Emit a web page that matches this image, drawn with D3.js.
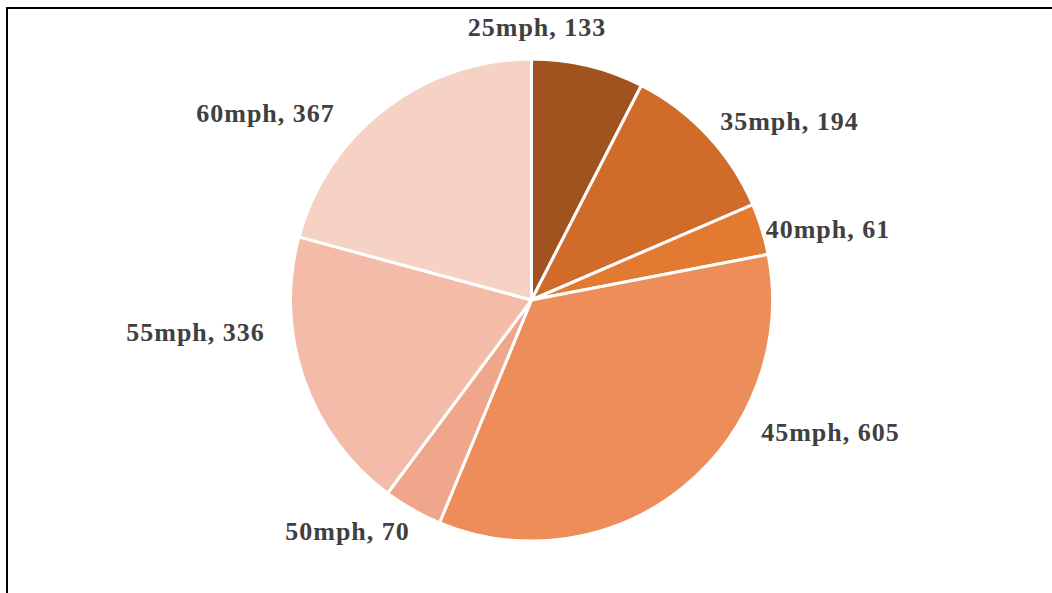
<!DOCTYPE html>
<html>
<head>
<meta charset="utf-8">
<script src="https://cdn.jsdelivr.net/npm/d3@7"></script>
<style>
  html, body { margin: 0; padding: 0; background: #fff; }
  svg { display: block; }
</style>
</head>
<body>
<svg id="chart" width="1052" height="593"></svg>
<script>
// ---- data ----
const categories = ["25mph", "35mph", "40mph", "45mph", "50mph", "55mph", "60mph"];
const values = [133, 194, 61, 605, 70, 336, 367];
const colors = ["#A0521F", "#D06B2A", "#E37A31", "#ED8E5A", "#F0A68A", "#F3BBA8", "#F6D2C5"];
// label offsets from pie centre (px), placed like the original "best fit" labels
const labelOffsets = [[5.5, -273], [258, -178.5], [296.5, -71], [299, 132.5], [-184, 231], [-336, 32], [-266, -187]];

const W = 1052, H = 593;
const cx = 531.5, cy = 300, R = 241;

const svg = d3.select("#chart");

// outer frame (cut off at right and bottom in the original)
svg.append("rect")
  .attr("x", 7).attr("y", 8)
  .attr("width", 1200).attr("height", 800)
  .attr("fill", "none").attr("stroke", "#000").attr("stroke-width", 2);

const data = categories.map((c, i) => ({ cat: c, value: values[i], color: colors[i], off: labelOffsets[i] }));

const pie = d3.pie().value(d => d.value).sort(null);
const arc = d3.arc().innerRadius(0).outerRadius(R);

const g = svg.append("g").attr("transform", `translate(${cx},${cy})`);

g.selectAll("path")
  .data(pie(data))
  .join("path")
  .attr("d", arc)
  .attr("fill", d => d.data.color)
  .attr("stroke", "#fff")
  .attr("stroke-width", 3)
  .attr("stroke-linejoin", "round");

g.selectAll("text")
  .data(pie(data))
  .join("text")
  .attr("x", d => d.data.off[0])
  .attr("y", d => d.data.off[1])
  .attr("dy", "0.34em")
  .attr("text-anchor", "middle")
  .attr("font-family", "'Liberation Serif', 'Times New Roman', serif")
  .attr("font-weight", "bold")
  .attr("font-size", 26)
  .attr("letter-spacing", "1px")
  .attr("fill", "#404040")
  .text(d => `${d.data.cat}, ${d.data.value}`);
</script>
</body>
</html>
